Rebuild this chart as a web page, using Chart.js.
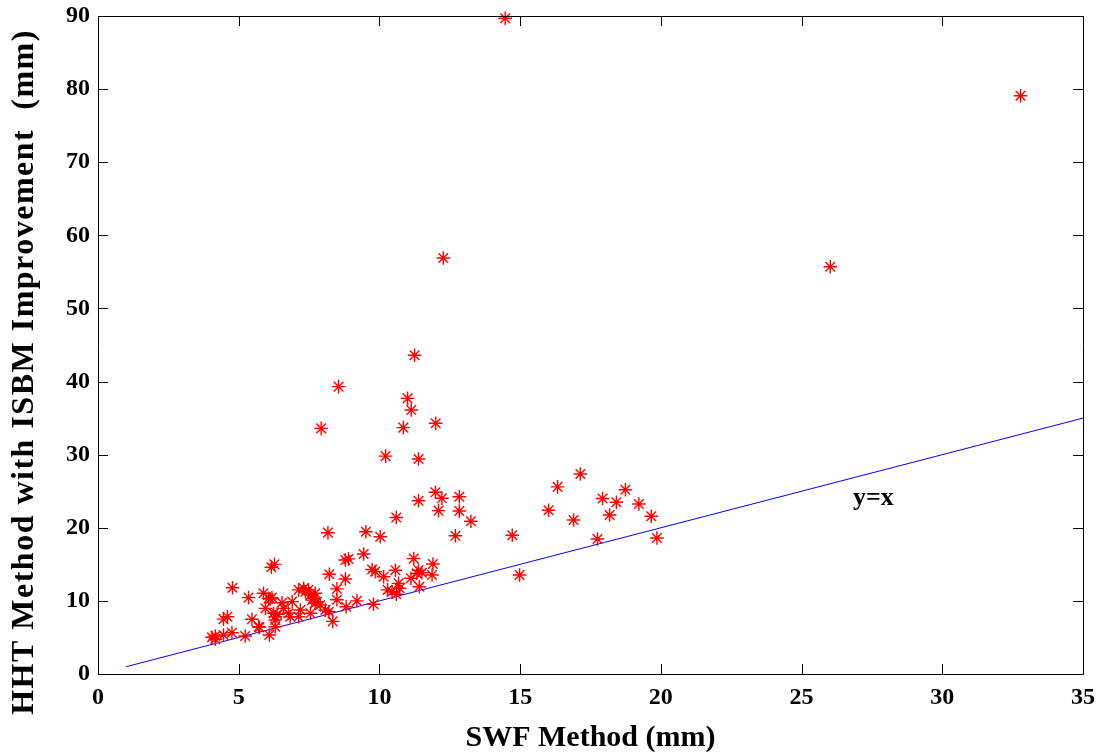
<!DOCTYPE html>
<html lang="en">
<head>
    <meta charset="UTF-8">
    <title>SWF vs HHT</title>
    <script src="https://cdn.jsdelivr.net/npm/chart.js"></script>
    <style>
        body, html {
            margin: 0;
            padding: 0;
            background: #ffffff;
        }
        .chart {
            width: 1104px;
            height: 752px;
        }
    </style>
</head>
<body>
    <div class="chart">
        <canvas id="scatterChart"></canvas>
    </div>

    <script>
    // SWF method values (x) and HHT with ISBM improvement (y)
    const swfX = [
        14.47, 32.78, 26.02, 12.27, 11.25, 8.55, 11.0, 11.13, 7.93, 10.85,
        12.0, 10.22, 11.39, 11.99, 12.22, 12.84, 11.39, 12.1, 12.84, 13.25,
        10.6, 17.14, 16.33, 18.74, 17.93, 18.42, 19.22, 16.01, 18.18, 16.9,
        19.66, 14.72, 17.75, 19.86, 14.98, 12.7, 8.17, 9.52, 10.03, 9.44,
        8.79, 8.9, 11.22, 11.9, 6.16, 6.27, 8.22, 8.79, 9.74, 9.85,
        10.15, 10.57, 10.68, 11.39, 11.51, 11.33, 11.12, 11.87, 10.29, 10.45,
        10.72, 10.6, 11.42, 4.78, 5.35, 5.88, 6.06, 6.18, 6.12, 8.49,
        8.49, 9.2, 8.82, 9.79, 8.34, 6.54, 6.9, 7.13, 7.31, 7.37,
        7.48, 7.55, 7.66, 7.72, 7.72, 7.6, 7.78, 7.9, 8.08, 8.2,
        7.19, 7.55, 7.13, 5.95, 6.24, 6.3, 6.36, 6.6, 6.77, 6.83,
        6.3, 4.46, 4.6, 5.47, 5.74, 6.3, 5.71, 6.09, 5.23, 4.76,
        4.46, 4.05, 4.17, 4.17
    ];
    const hhtY = [
        89.7, 79.1, 55.7, 56.9, 43.6, 39.3, 37.7, 36.1, 33.6, 33.7,
        34.3, 29.8, 29.4, 24.85, 24.03, 24.25, 23.7, 22.34, 22.3, 20.9,
        21.4, 27.36, 25.6, 25.2, 24.0, 23.5, 23.25, 22.4, 21.75, 21.06,
        21.57, 18.97, 18.47, 18.6, 13.54, 18.9, 19.33, 19.46, 18.78, 16.41,
        15.6, 15.75, 15.78, 15.05, 14.6, 15.0, 13.65, 13.0, 14.3, 14.0,
        13.3, 14.2, 12.4, 14.2, 13.85, 13.77, 13.1, 13.54, 11.5, 11.26,
        11.72, 10.9, 11.94, 11.8, 10.45, 11.04, 10.35, 10.44, 10.26, 11.65,
        10.15, 10.0, 9.2, 9.55, 7.2, 9.75, 9.9, 11.5, 11.72, 11.26,
        11.5, 10.8, 10.35, 11.04, 9.67, 10.1, 9.89, 9.44, 8.75, 8.52,
        8.75, 8.3, 7.84, 8.98, 8.3, 7.84, 8.17, 8.98, 8.3, 7.84,
        7.4, 7.5, 7.84, 7.48, 6.38, 6.47, 6.47, 5.33, 5.2, 5.65,
        5.33, 5.02, 5.2, 4.75
    ];
    // reference line y = x
    const lineX = [1, 35];
    const lineY = [1, 35];

    const xTitle = 'SWF Method (mm)';
    const yTitle = 'HHT Method with ISBM Improvement  (mm)';
    const lineLabel = 'y=x';

    const serif = '"Liberation Serif", "DejaVu Serif", serif';

    // MATLAB style box with inward ticks on all four sides, plus the y title and line label
    const boxTicks = {
        id: 'boxTicks',
        afterDraw(chart) {
            const { ctx, chartArea: { left, right, top, bottom }, scales: { x, y } } = chart;
            const len = 10;
            ctx.save();
            ctx.strokeStyle = '#000';
            ctx.lineWidth = 1;
            ctx.beginPath();
            ctx.rect(left + 0.5, top + 0.5, right - left, bottom - top);
            x.ticks.forEach(t => {
                const px = Math.round(x.getPixelForValue(t.value)) + 0.5;
                ctx.moveTo(px, bottom); ctx.lineTo(px, bottom - len);
                ctx.moveTo(px, top); ctx.lineTo(px, top + len);
            });
            y.ticks.forEach(t => {
                const py = Math.round(y.getPixelForValue(t.value)) + 0.5;
                ctx.moveTo(left, py); ctx.lineTo(left + len, py);
                ctx.moveTo(right, py); ctx.lineTo(right - len, py);
            });
            ctx.stroke();

            ctx.fillStyle = '#000';
            ctx.font = 'bold 26px ' + serif;
            ctx.textAlign = 'center';
            ctx.textBaseline = 'middle';
            ctx.fillText(lineLabel, x.getPixelForValue(27.55), y.getPixelForValue(24.0));

            // y axis title, drawn by hand so it can sit a bit below the axis middle
            ctx.translate(25, 372);
            ctx.rotate(-Math.PI / 2);
            ctx.font = 'bold 32px ' + serif;
            ctx.letterSpacing = '1.5px';
            ctx.fillText(yTitle, 0, 0);
            ctx.restore();
        }
    };

    const points = swfX.map((v, i) => ({ x: v, y: hhtY[i] }));
    const linePts = lineX.map((v, i) => ({ x: v, y: lineY[i] }));

    new Chart(document.getElementById('scatterChart'), {
        type: 'scatter',
        data: {
            datasets: [{
                data: points,
                pointStyle: 'star',
                pointRadius: 6.8,
                pointBorderWidth: 1.4,
                borderColor: '#ff0000',
                backgroundColor: '#ff0000',
                clip: false
            }, {
                type: 'line',
                data: linePts,
                borderColor: '#0000ff',
                borderWidth: 1,
                pointRadius: 0,
                fill: false
            }]
        },
        options: {
            responsive: true,
            maintainAspectRatio: false,
            animation: false,
            layout: { padding: { left: 0, right: 21, top: 16, bottom: 0 } },
            plugins: {
                legend: { display: false },
                tooltip: { enabled: false }
            },
            scales: {
                x: {
                    type: 'linear',
                    min: 0,
                    max: 35,
                    afterFit: s => { s.height = 78; s.paddingLeft = 0; s.paddingRight = 0; },
                    grid: { drawOnChartArea: false, drawTicks: false },
                    border: { display: false },
                    ticks: {
                        stepSize: 5,
                        padding: 9,
                        color: '#000',
                        font: { family: serif, size: 24, weight: 'bold' }
                    },
                    title: {
                        display: true,
                        text: xTitle,
                        color: '#000',
                        padding: { top: 10, bottom: 0 },
                        font: { family: serif, size: 30, weight: 'bold', lineHeight: 0.95 }
                    }
                },
                y: {
                    min: 0,
                    max: 90,
                    afterFit: s => { s.width = 98; s.paddingTop = 0; s.paddingBottom = 0; },
                    grid: { drawOnChartArea: false, drawTicks: false },
                    border: { display: false },
                    ticks: {
                        stepSize: 10,
                        padding: 8,
                        color: '#000',
                        font: { family: serif, size: 24, weight: 'bold' }
                    },
                    title: { display: false }
                }
            }
        },
        plugins: [boxTicks]
    });
    </script>
</body>
</html>
